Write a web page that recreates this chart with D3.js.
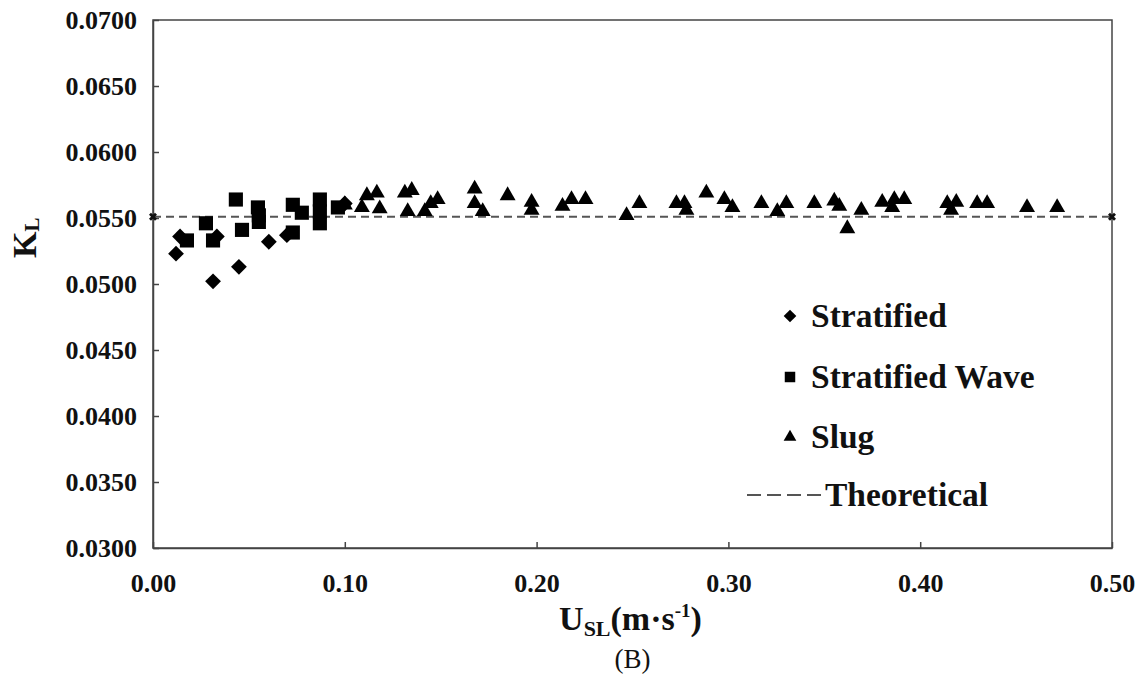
<!DOCTYPE html>
<html>
<head>
<meta charset="UTF-8">
<title>K_L vs U_SL</title>
<script src="https://d3js.org/d3.v7.min.js"></script>
<style>
  body { margin: 0; background: #fff; }
  text { font-family: "Liberation Serif", "Times New Roman", serif; fill: #111; }
</style>
</head>
<body>
<svg class="chart"></svg>
<script>
// data (x = U_SL in m/s, y = K_L)
const stratX = [0.0120, 0.0141, 0.0313, 0.0333, 0.0448, 0.0604, 0.0698, 0.1000];
const stratY = [0.0523, 0.0536, 0.0502, 0.0536, 0.0513, 0.0532, 0.0537, 0.0561];

const waveX = [0.0177, 0.0276, 0.0313, 0.0432, 0.0464, 0.0547, 0.0552, 0.0552, 0.0729, 0.0776, 0.0729, 0.0870, 0.0870, 0.0870, 0.0964];
const waveY = [0.0533, 0.0546, 0.0533, 0.0564, 0.0541, 0.0558, 0.0552, 0.0547, 0.0560, 0.0554, 0.0539, 0.0564, 0.0546, 0.0555, 0.0558];

const slugX = [0.1000, 0.1089, 0.1115, 0.1167, 0.1182, 0.1313, 0.1349, 0.1328, 0.1417, 0.1448,
               0.1484, 0.1677, 0.1677, 0.1719, 0.1849, 0.1974, 0.1974, 0.2135, 0.2182, 0.2255,
               0.2469, 0.2536, 0.2729, 0.2771, 0.2781, 0.2885, 0.2979, 0.3021, 0.3172, 0.3255,
               0.3302, 0.3448, 0.3552, 0.3578, 0.3620, 0.3693, 0.3802, 0.3865, 0.3854, 0.3917,
               0.4141, 0.4188, 0.4161, 0.4297, 0.4349, 0.4557, 0.4714];
const slugY = [0.0560, 0.0558, 0.0567, 0.0569, 0.0557, 0.0569, 0.0571, 0.0555, 0.0555, 0.0561,
               0.0564, 0.0572, 0.0561, 0.0555, 0.0567, 0.0562, 0.0556, 0.0559, 0.0564, 0.0564,
               0.0552, 0.0561, 0.0561, 0.0561, 0.0556, 0.0569, 0.0564, 0.0558, 0.0561, 0.0555,
               0.0561, 0.0561, 0.0563, 0.0559, 0.0542, 0.0556, 0.0562, 0.0564, 0.0558, 0.0564,
               0.0561, 0.0562, 0.0556, 0.0561, 0.0561, 0.0558, 0.0558];

const theoryX = [0.00, 0.50];
const theoryY = [0.0551, 0.0551];

const xTicks = [0.00, 0.10, 0.20, 0.30, 0.40, 0.50];
const yTicks = [0.0300, 0.0350, 0.0400, 0.0450, 0.0500, 0.0550, 0.0600, 0.0650, 0.0700];

const legendNames = ["Stratified", "Stratified Wave", "Slug", "Theoretical"];

const W = 1138, H = 680;
const margins = {top: 20, right: 26, bottom: 132, left: 153};
const width = W - margins.left - margins.right;
const height = H - margins.top - margins.bottom;

const svg = d3.select(".chart").attr("width", W).attr("height", H);
const chart = svg.append("g").attr("transform", `translate(${margins.left}, ${margins.top})`);

const x_scale = d3.scaleLinear().domain([0, 0.5]).range([0, width]);
const y_scale = d3.scaleLinear().domain([0.03, 0.07]).range([height, 0]);

// plot frame
chart.append("rect")
    .attr("width", width).attr("height", height)
    .style("fill", "none").style("stroke", "#444").style("stroke-width", 1.5);

// axes with inward ticks
const xAxis = chart.append("g")
    .attr("transform", `translate(0, ${height})`)
    .call(d3.axisBottom(x_scale).tickValues(xTicks).tickFormat(d3.format(".2f"))
        .tickSizeInner(-6).tickSizeOuter(0).tickPadding(26));
const yAxis = chart.append("g")
    .call(d3.axisLeft(y_scale).tickValues(yTicks).tickFormat(d3.format(".4f"))
        .tickSizeInner(-6).tickSizeOuter(0).tickPadding(16));

[xAxis, yAxis].forEach(a => {
  a.select(".domain").style("stroke", "#444").style("stroke-width", 1.5);
  a.selectAll(".tick line").style("stroke", "#444").style("stroke-width", 1.5);
  a.selectAll(".tick text")
      .style("font-family", '"Liberation Serif", serif')
      .style("font-weight", "bold").style("font-size", "26px").style("fill", "#111");
});

// theoretical line
const theory = theoryX.map((v, i) => [v, theoryY[i]]);
chart.append("path")
    .datum(theory)
    .attr("d", d3.line().x(d => x_scale(d[0])).y(d => y_scale(d[1])))
    .style("fill", "none").style("stroke", "#555").style("stroke-width", 2)
    .style("stroke-dasharray", "8,5");
chart.selectAll(".tend").data(theory).enter().append("path")
    .attr("d", d3.symbol().type(d3.symbolCross).size(40))
    .attr("transform", d => `translate(${x_scale(d[0])}, ${y_scale(d[1])}) rotate(45)`)
    .style("fill", "#111");

// markers
const diamond = d3.symbol().type(d3.symbolSquare).size(125);
const square = d3.symbol().type(d3.symbolSquare).size(200);
const triangle = d3.symbol().type(d3.symbolTriangle).size(110);

chart.selectAll(".slug").data(slugX.map((v, i) => [v, slugY[i]])).enter().append("path")
    .attr("d", triangle)
    .attr("transform", d => `translate(${x_scale(d[0])}, ${y_scale(d[1])})`)
    .style("fill", "#000");

chart.selectAll(".wave").data(waveX.map((v, i) => [v, waveY[i]])).enter().append("path")
    .attr("d", square)
    .attr("transform", d => `translate(${x_scale(d[0])}, ${y_scale(d[1])})`)
    .style("fill", "#000");

chart.selectAll(".strat").data(stratX.map((v, i) => [v, stratY[i]])).enter().append("path")
    .attr("d", diamond)
    .attr("transform", d => `translate(${x_scale(d[0])}, ${y_scale(d[1])}) rotate(45)`)
    .style("fill", "#000");

// axis titles
svg.append("text")
    .attr("transform", `translate(36, ${margins.top + y_scale(0.0535)}) rotate(-90)`)
    .attr("text-anchor", "middle")
    .style("font-weight", "bold").style("font-size", "34px")
    .html('K<tspan dy="3" font-size="21px">L</tspan>');

svg.append("text")
    .attr("x", margins.left + width / 2 - 2)
    .attr("y", 630)
    .attr("text-anchor", "middle")
    .style("font-weight", "bold").style("font-size", "34px")
    .html('U<tspan dy="6" font-size="22px">SL</tspan><tspan dy="-6">(m·s</tspan><tspan dy="-13" font-size="19px">-1</tspan><tspan dy="13">)</tspan>');

svg.append("text")
    .attr("x", margins.left + width / 2)
    .attr("y", 668)
    .attr("text-anchor", "middle")
    .style("font-size", "27px")
    .text("(B)");

// legend
const legend = svg.append("g");
const rowY = [316, 377, 437, 495];
legend.append("path").attr("d", d3.symbol().type(d3.symbolSquare).size(80))
    .attr("transform", `translate(790, ${rowY[0]}) rotate(45)`).style("fill", "#000");
legend.append("path").attr("d", d3.symbol().type(d3.symbolSquare).size(110))
    .attr("transform", `translate(790, ${rowY[1]})`).style("fill", "#000");
legend.append("path").attr("d", d3.symbol().type(d3.symbolTriangle).size(70))
    .attr("transform", `translate(790, ${rowY[2]})`).style("fill", "#000");
legend.append("line")
    .attr("x1", 747).attr("x2", 823).attr("y1", rowY[3]).attr("y2", rowY[3])
    .style("stroke", "#555").style("stroke-width", 2).style("stroke-dasharray", "14,6");

legend.selectAll(".ltext").data(legendNames).enter().append("text")
    .attr("x", (d, i) => i === 3 ? 825 : 811)
    .attr("y", (d, i) => rowY[i] + 11)
    .style("font-weight", "bold").style("font-size", "33.5px")
    .text(d => d);
</script>
</body>
</html>
